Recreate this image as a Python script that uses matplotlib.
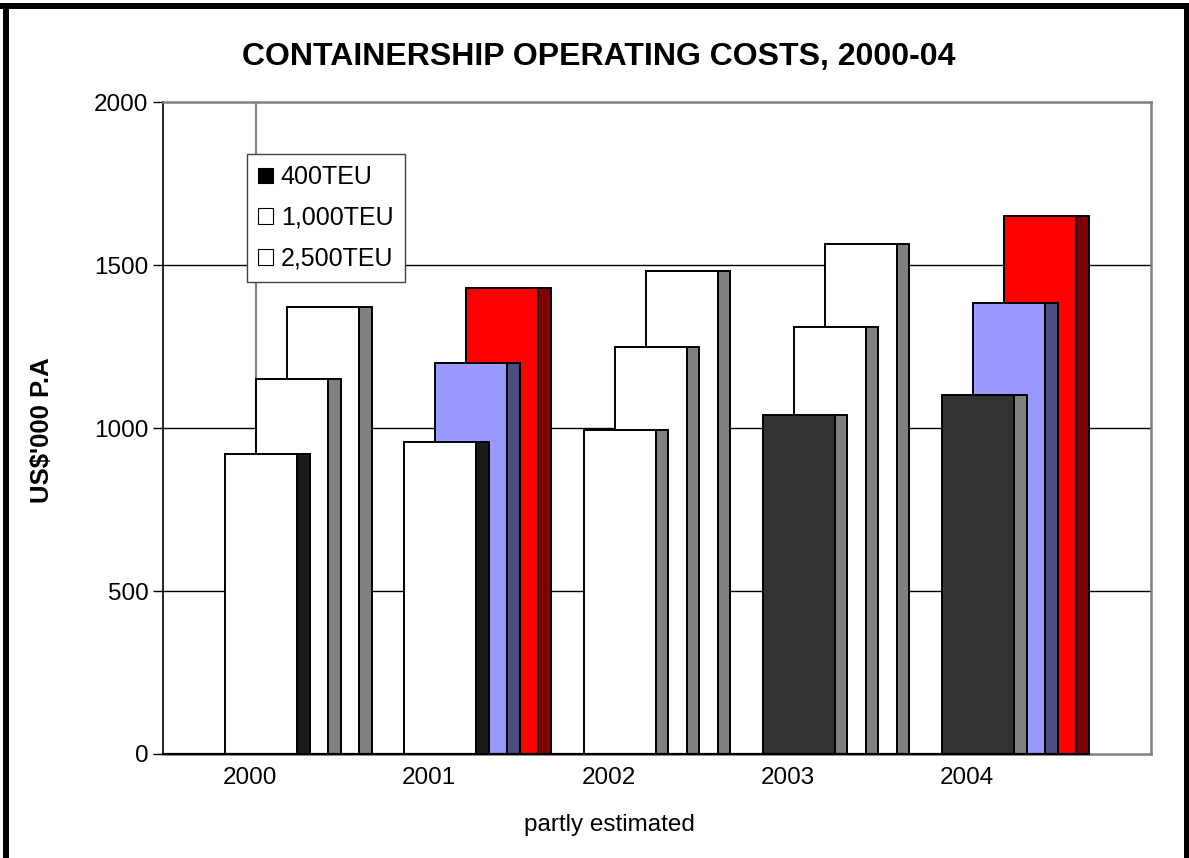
import matplotlib
matplotlib.use("Agg")
import matplotlib.pyplot as plt
from matplotlib.patches import Patch
from matplotlib.lines import Line2D

plt.rcParams['font.family'] = ['Liberation Sans', 'DejaVu Sans']

# ---- data ----
years = ["2000", "2001", "2002", "2003", "2004"]
series_names = ["400TEU", "1,000TEU", "2,500TEU"]
teu400 = [920, 957, 993, 1040, 1102]
teu1000 = [1151, 1201, 1250, 1311, 1385]
teu2500 = [1372, 1429, 1483, 1565, 1651]
yticks = [0, 500, 1000, 1500, 2000]

# ---- styles (front colour, side colour) per series per year ----
front_colors = [
    ["#FFFFFF", "#FFFFFF", "#FFFFFF", "#333333", "#333333"],
    ["#FFFFFF", "#9999FF", "#FFFFFF", "#FFFFFF", "#9999FF"],
    ["#FFFFFF", "#FF0000", "#FFFFFF", "#FFFFFF", "#FF0000"],
]
side_colors = [
    ["#1A1A1A", "#1A1A1A", "#808080", "#808080", "#808080"],
    ["#808080", "#4D4D80", "#808080", "#808080", "#4D4D80"],
    ["#808080", "#800000", "#808080", "#808080", "#800000"],
]

W, H = 1189, 858
fig = plt.figure(figsize=(W / 100, H / 100), dpi=100)
ax = fig.add_axes([163 / W, 1 - 754 / H, (1151 - 163) / W, (754 - 102.3) / H])

PX = 179.3  # pixels per category
off0 = (225 - 250) / PX
step = 31 / PX
fw = 72 / PX
sw = 12.5 / PX
xmin, xmax = (163 - 250) / PX, (1151 - 250) / PX

values = [teu400, teu1000, teu2500]
xs = list(range(len(years)))
for j in (2, 1, 0):
    z = 10 - j
    lefts = [x + off0 + j * step for x in xs]
    ax.bar(lefts, values[j], width=fw, align='edge', color=front_colors[j],
           edgecolor='black', linewidth=1.4, zorder=z)
    ax.bar([l + fw for l in lefts], values[j], width=sw, align='edge',
           color=side_colors[j], edgecolor='black', linewidth=1.4, zorder=z)

# gridlines
for yv in yticks[1:-1]:
    ax.axhline(yv, color='black', linewidth=1.0, zorder=1)
# stray vertical back-wall line
ax.plot([off0 + step, off0 + step], [0, 2000], color='#808080', linewidth=1.5, zorder=1)

ax.set_xlim(xmin, xmax)
ax.set_ylim(0, 2000)
ax.set_yticks(yticks)
ax.set_yticklabels([str(v) for v in yticks])
ax.set_xticks(xs)
ax.set_xticklabels(years)
ax.tick_params(axis='x', length=0, pad=9, labelsize=17.5)
ax.tick_params(axis='y', length=7, width=1, pad=3.5, labelsize=17.5, direction='out')

for s in ('top', 'right'):
    ax.spines[s].set_color('#808080')
    ax.spines[s].set_linewidth(1.8)
ax.spines['bottom'].set_color('#808080')
ax.spines['bottom'].set_linewidth(1.8)
ax.spines['left'].set_color('black')
ax.spines['left'].set_linewidth(1.2)
last_end = 4 + off0 + 2 * step + fw + sw
ax.plot([xmin, last_end], [0, 0], color='black', linewidth=1.6, zorder=12, clip_on=False)

# legend
handles = [Patch(facecolor='black', edgecolor='black', linewidth=0.8),
           Patch(facecolor='white', edgecolor='black', linewidth=0.8),
           Patch(facecolor='white', edgecolor='black', linewidth=0.8)]
leg = fig.legend(handles, series_names, loc='upper left',
                 bbox_to_anchor=(247 / W, 1 - 154 / H), borderaxespad=0,
                 fontsize=18, handlelength=0.6, handleheight=0.6,
                 handletextpad=0.3, borderpad=0.45, labelspacing=0.67,
                 fancybox=False, framealpha=1, edgecolor='#404040')
leg.get_frame().set_linewidth(1.0)
leg.set_zorder(20)

# texts
fig.text(599 / W, 1 - 57 / H, "CONTAINERSHIP OPERATING COSTS, 2000-04",
         ha='center', va='center', fontsize=23, fontweight='bold')
fig.text(42 / W, 1 - 430 / H, "US$'000 P.A", rotation=90, ha='center',
         va='center', fontsize=18.5, fontweight='bold')
fig.text(609 / W, 1 - 825 / H, "partly estimated", ha='center', va='center',
         fontsize=17.5)

# outer thick frame (left, top, right)
lw = 6 * 72 / 100
fig.add_artist(Line2D([6 / W, 6 / W], [0, 1 - 6 / H], color='black', linewidth=lw,
                      transform=fig.transFigure))
fig.add_artist(Line2D([3 / W, 1186.5 / W], [1 - 6 / H, 1 - 6 / H], color='black',
                      linewidth=lw, transform=fig.transFigure))
fig.add_artist(Line2D([1186.5 / W, 1186.5 / W], [0, 1 - 6 / H], color='black',
                      linewidth=lw, transform=fig.transFigure))

fig.savefig("out.png", dpi=100)
